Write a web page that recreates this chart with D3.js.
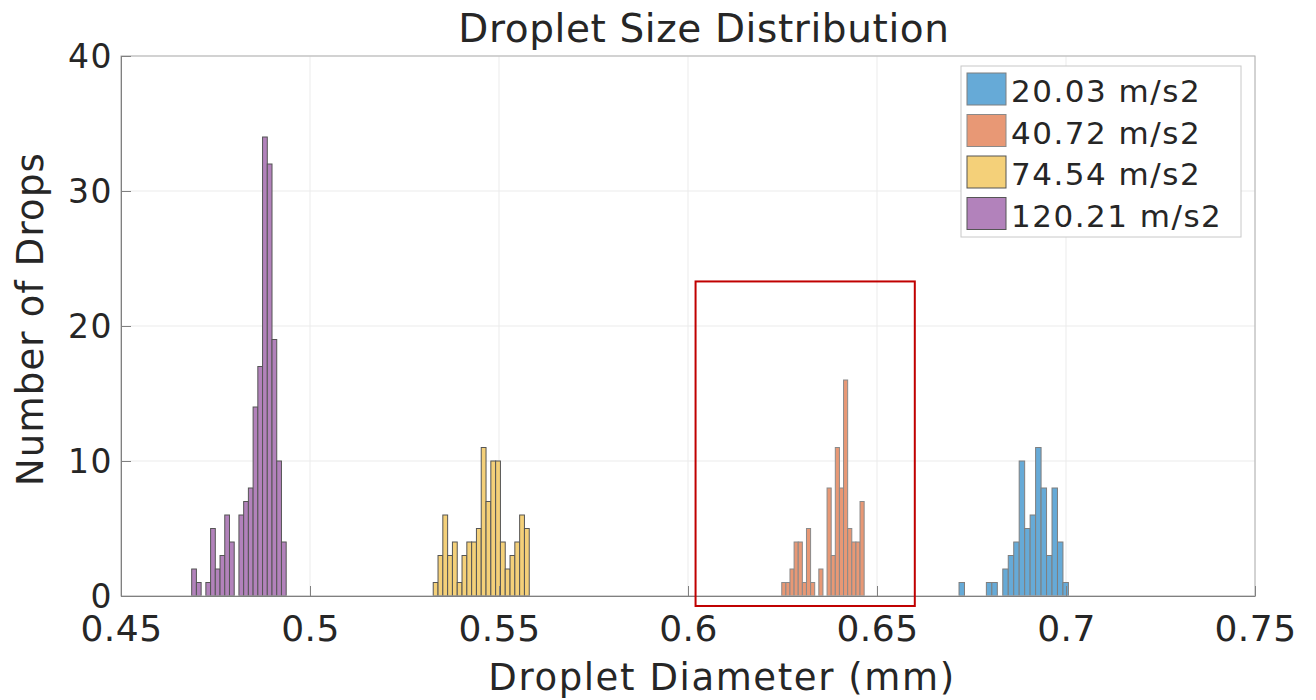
<!DOCTYPE html>
<html>
<head>
<meta charset="utf-8">
<script src="https://cdn.jsdelivr.net/npm/d3@7"></script>
<style>
  body { margin: 0; background: #fff; }
  text { font-family: "DejaVu Sans", Verdana, sans-serif; fill: #262626; }
</style>
</head>
<body>
<svg id="chart" width="1316" height="700"></svg>
<script>
// Histogram series: 20 bins each, bin start (mm) and bin width (mm)
const seriesNames = ["20.03 m/s2", "40.72 m/s2", "74.54 m/s2", "120.21 m/s2"];
const seriesColors = ["#66aad7", "#e89875", "#f4d079", "#b282bb"];
const edgeColors = ["#7f7f7f", "#8a8a8a", "#555555", "#555555"];
const binStart = [0.6717, 0.6248, 0.5326, 0.4687];
const binWidth = [0.001447, 0.00109, 0.00127, 0.00125];
const counts20 = [1, 0, 0, 0, 0, 1, 1, 0, 2, 3, 4, 10, 5, 6, 11, 8, 3, 8, 4, 1];
const counts40 = [1, 1, 2, 4, 4, 1, 5, 1, 0, 2, 0, 8, 3, 11, 8, 16, 5, 4, 4, 7];
const counts74 = [1, 3, 6, 3, 4, 1, 3, 4, 4, 5, 11, 7, 10, 10, 4, 2, 3, 4, 6, 5];
const counts120 = [2, 1, 0, 1, 5, 2, 3, 6, 4, 0, 6, 7, 8, 14, 17, 34, 32, 19, 10, 4];
const seriesCounts = [counts20, counts40, counts74, counts120];

const xTicks = [0.45, 0.5, 0.55, 0.6, 0.65, 0.7, 0.75];
const yTicks = [0, 10, 20, 30, 40];
const xTickLabels = ["0.45", "0.5", "0.55", "0.6", "0.65", "0.7", "0.75"];

// Highlighted region around the 40.72 m/s2 distribution
const regionX = [0.602, 0.660];
const regionY = [-0.74, 23.3];

const svg = d3.select("#chart");
const m = { left: 121, right: 1255, top: 56, bottom: 596 };

const x = d3.scaleLinear().domain([0.45, 0.75]).range([m.left, m.right]);
const y = d3.scaleLinear().domain([0, 40]).range([m.bottom, m.top]);

// grid
const grid = svg.append("g");
grid.selectAll(".gx").data(xTicks).join("line")
  .attr("x1", d => x(d)).attr("x2", d => x(d))
  .attr("y1", m.top).attr("y2", m.bottom)
  .attr("stroke", "#ebebeb").attr("stroke-width", 1);
grid.selectAll(".gy").data(yTicks).join("line")
  .attr("x1", m.left).attr("x2", m.right)
  .attr("y1", d => y(d)).attr("y2", d => y(d))
  .attr("stroke", "#ebebeb").attr("stroke-width", 1);

// bars
seriesCounts.forEach((counts, s) => {
  const bins = counts.map((c, i) => ({
    x0: binStart[s] + i * binWidth[s],
    x1: binStart[s] + (i + 1) * binWidth[s],
    c
  }));
  svg.append("g").selectAll("rect").data(bins).join("rect")
    .attr("x", d => x(d.x0))
    .attr("width", d => x(d.x1) - x(d.x0))
    .attr("y", d => y(d.c))
    .attr("height", d => y(0) - y(d.c))
    .attr("fill", seriesColors[s])
    .attr("stroke", edgeColors[s])
    .attr("stroke-width", 1);
});

// axes box
svg.append("rect")
  .attr("x", m.left).attr("y", m.top)
  .attr("width", m.right - m.left).attr("height", m.bottom - m.top)
  .attr("fill", "none").attr("stroke", "#b0b0b0").attr("stroke-width", 1);

const xAxis = d3.axisBottom(x).tickValues(xTicks)
  .tickFormat((d, i) => xTickLabels[i]).tickSizeInner(-10).tickSizeOuter(0).tickPadding(0);
const gx = svg.append("g").attr("transform", `translate(0,${m.bottom})`).call(xAxis);
gx.select(".domain").attr("stroke", "#808080");
gx.selectAll(".tick line").attr("stroke", "#808080");
gx.selectAll(".tick text").attr("font-size", 36).attr("fill", "#262626")
  .attr("font-family", "'DejaVu Sans', sans-serif")
  .attr("y", 45).attr("dy", null).attr("letter-spacing", 0.5);

const yAxis = d3.axisLeft(y).tickValues(yTicks).tickSizeInner(-10).tickSizeOuter(0).tickPadding(8);
const gy = svg.append("g").attr("transform", `translate(${m.left},0)`).call(yAxis);
gy.select(".domain").attr("stroke", "#808080");
gy.selectAll(".tick line").attr("stroke", "#808080");
gy.selectAll(".tick text").attr("font-size", 33).attr("fill", "#262626")
  .attr("font-family", "'DejaVu Sans', sans-serif").attr("dy", "0.34em")
  .attr("letter-spacing", 1.5);

// highlight rectangle
svg.append("rect")
  .attr("x", x(regionX[0])).attr("y", y(regionY[1]))
  .attr("width", x(regionX[1]) - x(regionX[0]))
  .attr("height", y(regionY[0]) - y(regionY[1]))
  .attr("fill", "none").attr("stroke", "#c00000").attr("stroke-width", 2);

// titles
svg.append("text").attr("x", 704).attr("y", 42)
  .attr("text-anchor", "middle").attr("font-size", 39).attr("letter-spacing", 0.6)
  .text("Droplet Size Distribution");
svg.append("text").attr("x", 722).attr("y", 690)
  .attr("text-anchor", "middle").attr("font-size", 37).attr("letter-spacing", 1.6)
  .text("Droplet Diameter (mm)");
svg.append("text").attr("transform", "translate(43,319) rotate(-90)")
  .attr("text-anchor", "middle").attr("font-size", 37).attr("letter-spacing", 1.2)
  .text("Number of Drops");

// legend
const lg = svg.append("g");
lg.append("rect").attr("x", 961).attr("y", 66).attr("width", 280).attr("height", 171)
  .attr("fill", "#fff").attr("stroke", "#c8c8c8").attr("stroke-width", 1);
seriesNames.forEach((name, i) => {
  const cy = 89 + i * 41.5;
  lg.append("rect").attr("x", 967).attr("y", cy - 16).attr("width", 39).attr("height", 32)
    .attr("fill", seriesColors[i]).attr("stroke", edgeColors[i]).attr("stroke-width", 1);
  lg.append("text").attr("x", 1011).attr("y", cy + 13).attr("font-size", 31)
    .attr("letter-spacing", 1.5).text(name);
});
</script>
</body>
</html>
